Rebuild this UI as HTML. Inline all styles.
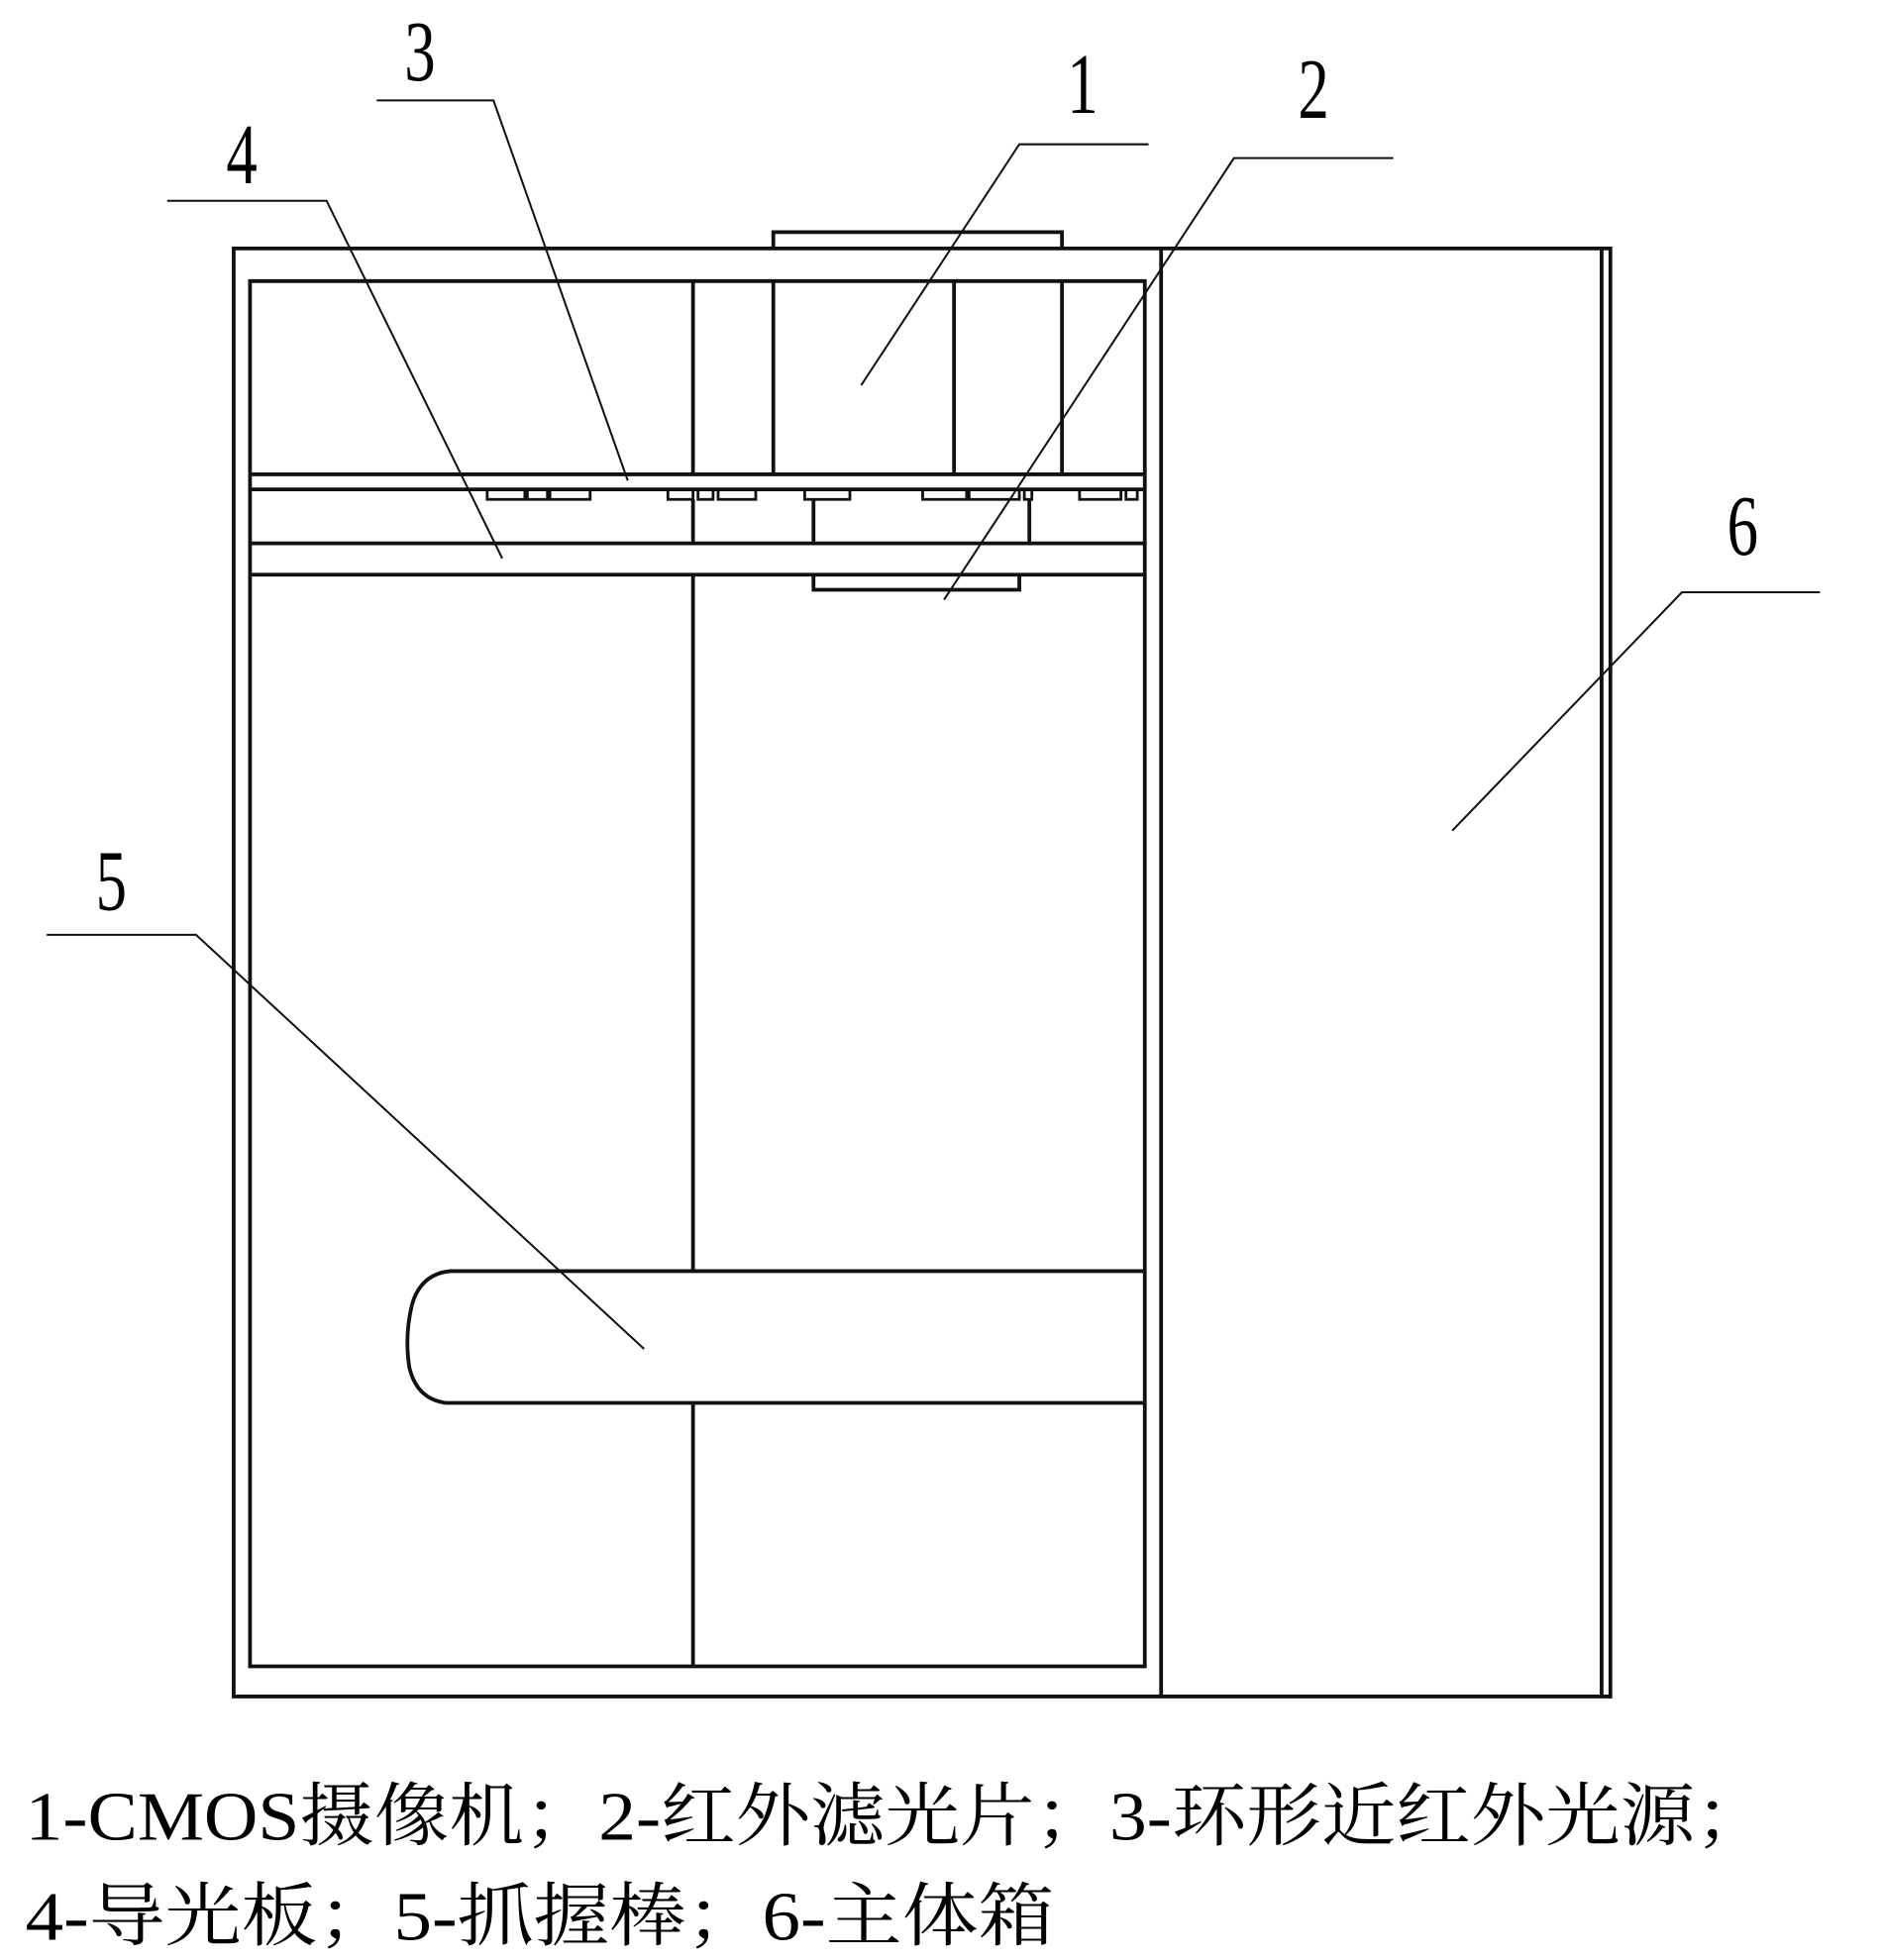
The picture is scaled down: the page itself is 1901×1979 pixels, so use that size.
<!DOCTYPE html>
<html><head><meta charset="utf-8"><style>
html,body{margin:0;padding:0;background:#fff;}
svg{display:block;}
</style></head><body>
<svg width="1901" height="1979" viewBox="0 0 1500 1562" xmlns="http://www.w3.org/2000/svg">
<g fill="none" stroke="#111" stroke-width="3">
<path d="M186 198 H1283 V1352 H186 Z"/>
<line x1="1276" y1="198" x2="1276" y2="1352"/>
<line x1="925" y1="198" x2="925" y2="1352"/>
<path d="M616 198 V185 H846 V198"/>
<path d="M199 224 H912 V1328 H199 Z"/>
<line x1="552" y1="224" x2="552" y2="378"/>
<line x1="616" y1="224" x2="616" y2="378"/>
<line x1="760" y1="224" x2="760" y2="378"/>
<line x1="846" y1="224" x2="846" y2="378"/>
<line x1="199" y1="378" x2="912" y2="378"/>
<line x1="199" y1="390" x2="912" y2="390"/>
<line x1="199" y1="433" x2="912" y2="433"/>
<line x1="199" y1="458" x2="912" y2="458"/>
<g stroke-width="2.2">
<path d="M388 390 V398 H418 V390"/>
<path d="M420 390 V398 H436 V390"/>
<path d="M438 390 V398 H470 V390"/>
<path d="M532 390 V398 H552 V390"/>
<path d="M556 390 V398 H568 V390"/>
<path d="M572 390 V398 H602 V390"/>
<path d="M641 390 V398 H677 V390"/>
<path d="M735 390 V398 H770 V390"/>
<path d="M772 390 V398 H812 V390"/>
<path d="M816 390 V398 H822 V390"/>
<path d="M860 390 V398 H893 V390"/>
<path d="M897 390 V398 H906 V390"/>
</g>
<line x1="552" y1="398" x2="552" y2="433"/>
<line x1="648" y1="398" x2="648" y2="433"/>
<line x1="820" y1="398" x2="820" y2="433"/>
<path d="M648 458 V470 H812 V458"/>
<line x1="552" y1="458" x2="552" y2="1013"/>
<line x1="552" y1="1118" x2="552" y2="1328"/>
<path d="M912 1013 H359 Q335 1015 328 1040 Q322 1065 326 1090 Q332 1115 355 1118 H912"/>
</g>
<g fill="none" stroke="#111" stroke-width="1.6">
<polyline points="300,80 393,80 500,383"/>
<polyline points="133,160 260,160 400,445"/>
<polyline points="915,115 812,115 686,307"/>
<polyline points="1110,126 983,126 752,478"/>
<polyline points="1450,472 1340,472 1157,662"/>
<polyline points="37,745 156,745 513,1075"/>
</g>
<g fill="#000" font-family="'Liberation Serif','Noto Serif CJK SC',serif" font-size="62">
<text transform="translate(322,64) scale(0.8,1.1)">3</text>
<text transform="translate(180,146) scale(0.8,1.1)">4</text>
<text transform="translate(850,90) scale(0.8,1.1)">1</text>
<text transform="translate(1034,94) scale(0.8,1.1)">2</text>
<text transform="translate(1376,442) scale(0.8,1.1)">6</text>
<text transform="translate(76,725) scale(0.8,1.1)">5</text>
</g>
<g fill="#000" font-family="'Liberation Serif','Noto Serif CJK SC',serif" font-size="55">
<text x="20" y="1466" textLength="1390" lengthAdjust="spacingAndGlyphs">1-CMOS摄像机；2-红外滤光片；3-环形近红外光源；</text>
<text x="20" y="1546" textLength="820" lengthAdjust="spacingAndGlyphs">4-导光板；5-抓握棒；6-主体箱</text>
</g>
</svg>
</body></html>
